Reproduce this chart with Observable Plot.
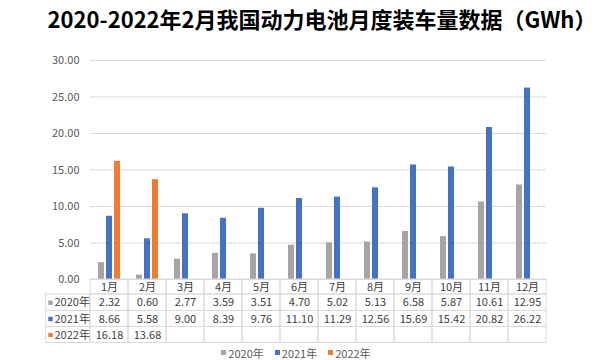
<!DOCTYPE html>
<html><head><meta charset="utf-8">
<script src="https://cdn.jsdelivr.net/npm/d3@7"></script>
<script src="https://cdn.jsdelivr.net/npm/@observablehq/plot@0.6"></script>
<style>
body{margin:0;background:#fff;width:600px;height:360px;overflow:hidden;font-family:"Noto Sans CJK SC",sans-serif;}
#title{height:40px;line-height:36px;font-size:22px;font-weight:bold;color:#000;white-space:nowrap;text-align:center;padding-left:44px;box-sizing:border-box;}
#chart svg{display:block;}
#legend{height:15px;display:flex;justify-content:center;align-items:center;gap:11px;font-size:11px;color:#595959;margin-left:-8px;}
#legend .item{display:flex;align-items:center;gap:2px;}
#legend .sw{width:5px;height:5px;display:inline-block;}
</style></head>
<body>
<div id="title">2020-2022年2月我国动力电池月度装车量数据（GWh）</div>
<div id="chart"></div>
<div id="legend"></div>
<script>
const months = ["1月","2月","3月","4月","5月","6月","7月","8月","9月","10月","11月","12月"];
const years = ["2020年","2021年","2022年"];
const v2020 = [2.32,0.60,2.77,3.59,3.51,4.70,5.02,5.13,6.58,5.87,10.61,12.95];
const v2021 = [8.66,5.58,9.00,8.39,9.76,11.10,11.29,12.56,15.69,15.42,20.82,26.22];
const v2022 = [16.18,13.68];
const colors = ["#A5A5A5","#4472C4","#ED7D31"];
const yTicks = [0,5,10,15,20,25,30];

const series = [v2020, v2021, v2022];
const data = years.flatMap((yr,i)=>series[i].map((v,j)=>({month:months[j], year:yr, value:v})));

const border = "#d9d9d9";
const txt = "#404040";
const fs = 11;
// table row geometry relative to frame bottom: [top, bottom]
const rowsGeom = [[0,15],[15,31.5],[31.5,47.5],[47.5,63.5]];
const frameH = 219;

const marks = [
  Plot.gridY(yTicks, {stroke: border, strokeOpacity: 1}),
  Plot.axisY(yTicks, {tickSize: 0, tickPadding: 11, tickFormat: d => d.toFixed(2), fill: "#595959", fontSize: fs, label: null}),
  Plot.barY(data, {fx: "month", x: "year", y: "value", fill: "year"})
];
rowsGeom.forEach(([t,b]) => {
  marks.push(Plot.rect(months, {fx: d => d, insetTop: frameH + t, insetBottom: -b, fill: "none", stroke: border}));
});
rowsGeom.slice(1).forEach(([t,b]) => {
  marks.push(Plot.rect(["1月"], {fx: d => d, insetTop: frameH + t, insetBottom: -b, insetLeft: -44.3, insetRight: 38.5, fill: "none", stroke: border}));
});
marks.push(Plot.text(months, {fx: d => d, text: d => d, frameAnchor: "bottom", lineAnchor: "middle", dy: 7.5, fill: txt, fontSize: fs}));
years.forEach((yr,i) => {
  const cy = (rowsGeom[i+1][0] + rowsGeom[i+1][1]) / 2;
  marks.push(Plot.text(data.filter(d => d.year === yr), {fx: "month", text: d => d.value.toFixed(2), frameAnchor: "bottom", lineAnchor: "middle", dy: cy, fill: txt, fontSize: fs}));
  marks.push(Plot.text([yr], {fx: () => "1月", text: d => d, frameAnchor: "bottom-left", textAnchor: "start", lineAnchor: "middle", dx: -36, dy: cy, fill: txt, fontSize: fs}));
  marks.push(Plot.dot([yr], {fx: () => "1月", frameAnchor: "bottom-left", dx: -40, dy: cy, symbol: "square", r: 2.5, fill: colors[i]}));
});

const chart = Plot.plot({
  width: 600, height: 305,
  marginTop: 20, marginBottom: 66, marginLeft: 87, marginRight: 51,
  style: {fontFamily: '"Noto Sans CJK SC", sans-serif', fontSize: fs + "px", background: "#fff", overflow: "visible"},
  fx: {domain: months, padding: 0, axis: null},
  x: {domain: years, paddingInner: 0.25, paddingOuter: 0.84, axis: null},
  y: {domain: [0, 30]},
  color: {domain: years, range: colors},
  marks
});
document.getElementById("chart").appendChild(chart);

const leg = document.getElementById("legend");
years.forEach((yr,i) => {
  const it = document.createElement("span");
  it.className = "item";
  it.innerHTML = `<span class="sw" style="background:${colors[i]}"></span><span>${yr}</span>`;
  leg.appendChild(it);
});
</script>
</body></html>
